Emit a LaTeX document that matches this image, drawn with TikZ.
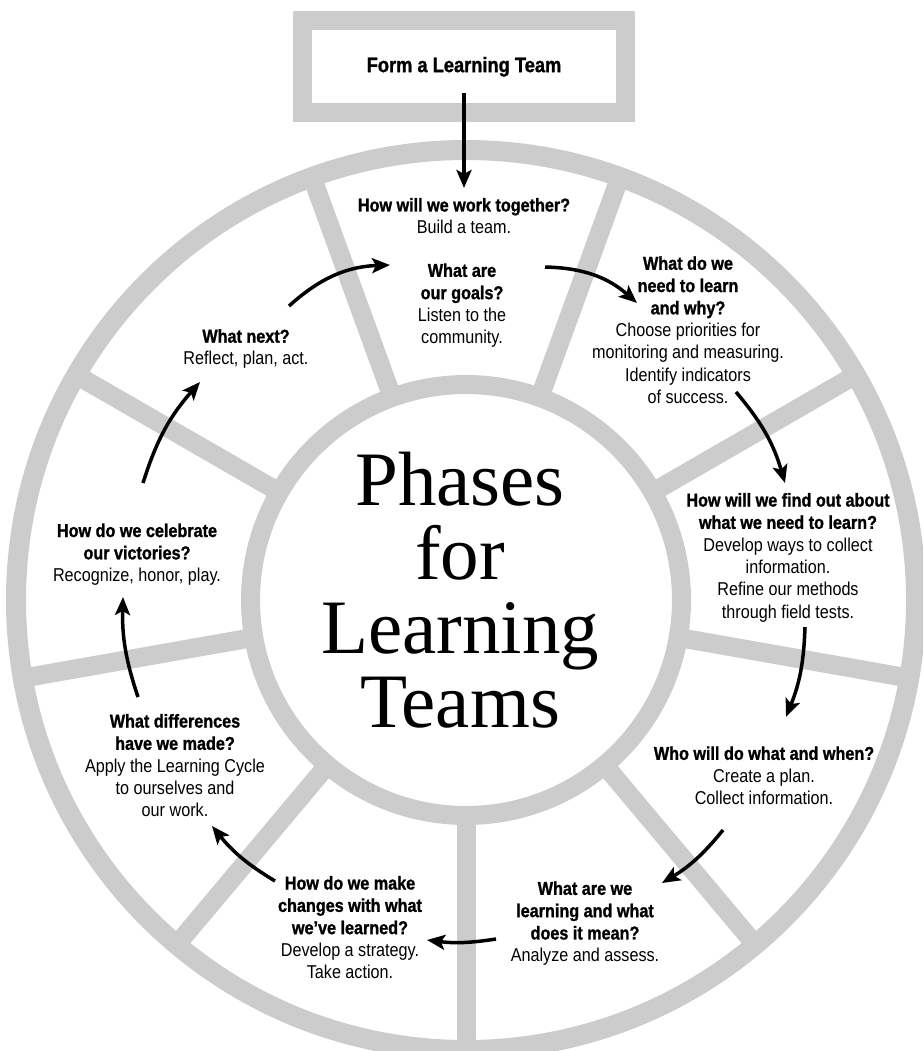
\documentclass[tikz,border=0pt]{standalone}
\usepackage{fontspec}
\setmainfont{Liberation Serif}
\newfontfamily\cond[FakeStretch=0.87,BoldFeatures={FakeBold=1.2}]{Liberation Sans}
\usetikzlibrary{arrows.meta,calc}
\definecolor{wheelgray}{RGB}{204,204,204}
\tikzset{
  ring/.style={draw=wheelgray,line width=20pt},
  spoke/.style={draw=wheelgray,line width=19pt},
  phase/.style={align=center,inner sep=0pt,font=\cond\fontsize{18.6}{22.3}\selectfont},
  flow/.style={-{Stealth[length=18pt,width=15pt,inset=4pt]},line width=3.5pt}
}
\begin{document}
\begin{tikzpicture}[x=1pt,y=-1pt]
\useasboundingbox (0,0) rectangle (923,1051);
\clip (0,0) rectangle (923,1051);
\begin{scope}[shift={(466,600)}]
\draw[ring] (0,0) circle (450pt);
\draw[spoke] (0,0) circle (215.5pt);
\foreach \a in {10,50,...,330} \draw[spoke] (\a:215) -- (\a:450);
\end{scope}

\node[draw=wheelgray,line width=19pt,minimum width=323pt,minimum height=91.5pt,
  font=\cond\bfseries\fontsize{21}{24}\selectfont] (form) at (464,66.75) {Form a Learning Team};
\node[font=\fontsize{77}{74}\selectfont,align=center,inner sep=0pt] (title) at (460,590)
  {Phases\\for\\Learning\\Teams};

\node[phase] (work) at (464,216) {\textbf{How will we work together?}\\Build a team.};
\node[phase] (goals) at (462,305.5) {\textbf{What are}\\\textbf{our goals?}\\Listen to the\\community.};
\node[phase] (learn) at (688,330) {\textbf{What do we}\\\textbf{need to learn}\\\textbf{and why?}\\
  Choose priorities for\\monitoring and measuring.\\Identify indicators\\of success.};
\node[phase] (find) at (788,557.5) {\textbf{How will we find out about}\\\textbf{what we need to learn?}\\
  Develop ways to collect\\information.\\Refine our methods\\through field tests.};
\node[phase] (who) at (764,775.5) {\textbf{Who will do what and when?}\\Create a plan.\\Collect information.};
\node[phase] (mean) at (585,923.5) {\textbf{What are we}\\\textbf{learning and what}\\\textbf{does it mean?}\\Analyze and assess.};
\node[phase] (change) at (350,927.5) {\textbf{How do we make}\\\textbf{changes with what}\\\textbf{we’ve learned?}\\
  Develop a strategy.\\Take action.};
\node[phase] (diff) at (175,765.5) {\textbf{What differences}\\\textbf{have we made?}\\
  Apply the Learning Cycle\\to ourselves and\\our work.};
\node[phase] (cele) at (137,554.5) {\textbf{How do we celebrate}\\\textbf{our victories?}\\Recognize, honor, play.};
\node[phase] (next) at (246,349) {\textbf{What next?}\\Reflect, plan, act.};

\draw[flow] ($(form)+(0,26)$) -- ($(work)+(0,-28)$);
\draw[flow] ($(next)+(43,-43)$) to[bend left=20] ($(goals)+(-72,-40.5)$);
\draw[flow] ($(goals)+(83,-38.5)$) to[bend left=20] ($(learn)+(-51,-27)$);
\draw[flow] ($(learn)+(48,62)$) to[bend left=12] ($(find)+(-3,-74.5)$);
\draw[flow] ($(find)+(17,69.5)$) to[bend left=10] ($(who)+(22,-58.5)$);
\draw[flow] ($(who)+(-41,54.5)$) to[bend left=10] ($(mean)+(77,-40.5)$);
\draw[flow] ($(mean)+(-89,15.5)$) to[bend left=8] ($(change)+(77,12.5)$);
\draw[flow] ($(change)+(-75,-46.5)$) to[bend left=10] ($(diff)+(37,60.5)$);
\draw[flow] ($(diff)+(-37,-68.5)$) to[bend left=10] ($(cele)+(-14,42.5)$);
\draw[flow] ($(cele)+(6,-71.5)$) to[bend left=12] ($(next)+(-46,33)$);
\end{tikzpicture}
\end{document}
